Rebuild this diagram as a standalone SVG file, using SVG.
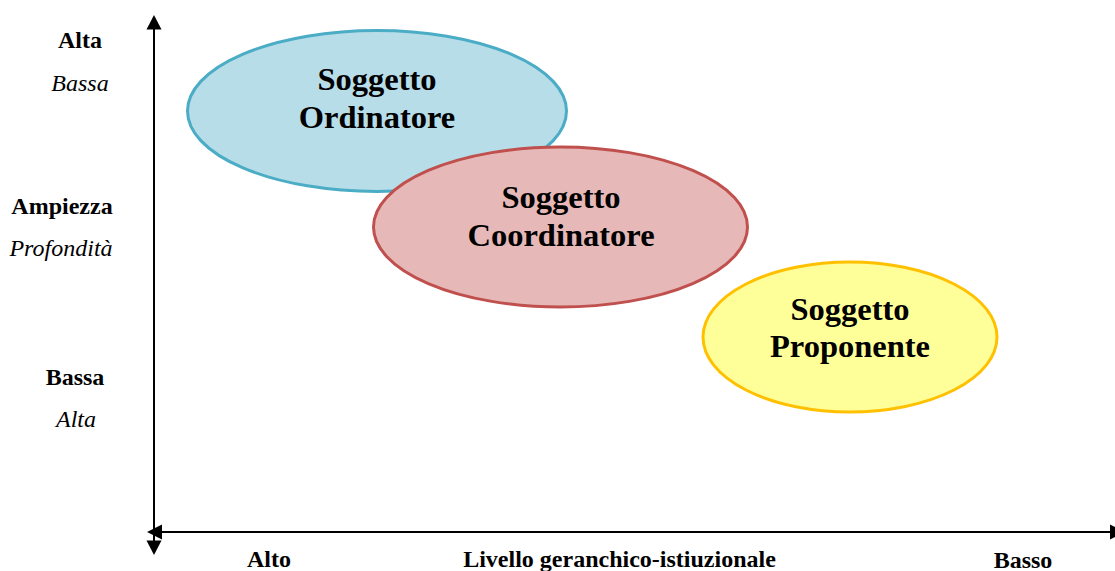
<svg xmlns="http://www.w3.org/2000/svg" width="1115" height="571" viewBox="0 0 1115 571">
<style>
.lbl{font-family:"Liberation Serif","Times New Roman",serif;font-size:24px;fill:#000;text-anchor:middle}
.b{font-weight:bold}
.i{font-style:italic}
.node{font-family:"Liberation Serif","Times New Roman",serif;font-size:32.5px;font-weight:bold;fill:#000;text-anchor:middle}
.axis{stroke:#000;stroke-width:2;fill:none}
.head{fill:#000}
</style>
<rect width="1115" height="571" fill="#fff"/>
<g id="axes">
<line class="axis" x1="154" y1="28" x2="154" y2="541"/>
<line class="axis" x1="161" y1="532" x2="1112" y2="532"/>
<polygon class="head" points="154,15 146.5,29.5 161.5,29.5"/>
<polygon class="head" points="154,555 146.5,540.5 161.5,540.5"/>
<polygon class="head" points="147,532 162,524.5 162,539.5"/>
<polygon class="head" points="1125,532 1110,524.5 1110,539.5"/>
</g>
<g id="node-ordinatore">
<ellipse cx="377" cy="111" rx="189.5" ry="80.5" fill="#B7DDE8" stroke="#4BACC6" stroke-width="3"/>
<text class="node" x="377" y="90">Soggetto</text>
<text class="node" x="377" y="128">Ordinatore</text>
</g>
<g id="node-coordinatore">
<ellipse cx="560.5" cy="227" rx="187" ry="80" fill="#E6B9B8" stroke="#C0504D" stroke-width="3"/>
<text class="node" x="561" y="208">Soggetto</text>
<text class="node" x="561" y="246">Coordinatore</text>
</g>
<g id="node-proponente">
<ellipse cx="850" cy="337" rx="147" ry="75" fill="#FFFF99" stroke="#FFC000" stroke-width="3"/>
<text class="node" x="850" y="320">Soggetto</text>
<text class="node" x="850" y="357">Proponente</text>
</g>
<g id="labels">
<text class="lbl b" x="80" y="48">Alta</text>
<text class="lbl i" x="80" y="91">Bassa</text>
<text class="lbl b" x="62" y="214">Ampiezza</text>
<text class="lbl i" x="61" y="256">Profondità</text>
<text class="lbl b" x="75" y="385">Bassa</text>
<text class="lbl i" x="76" y="427">Alta</text>
<text class="lbl b" x="269" y="567">Alto</text>
<text class="lbl b" x="619.5" y="567">Livello geranchico-istiuzionale</text>
<text class="lbl b" x="1023" y="568">Basso</text>
</g>
</svg>
